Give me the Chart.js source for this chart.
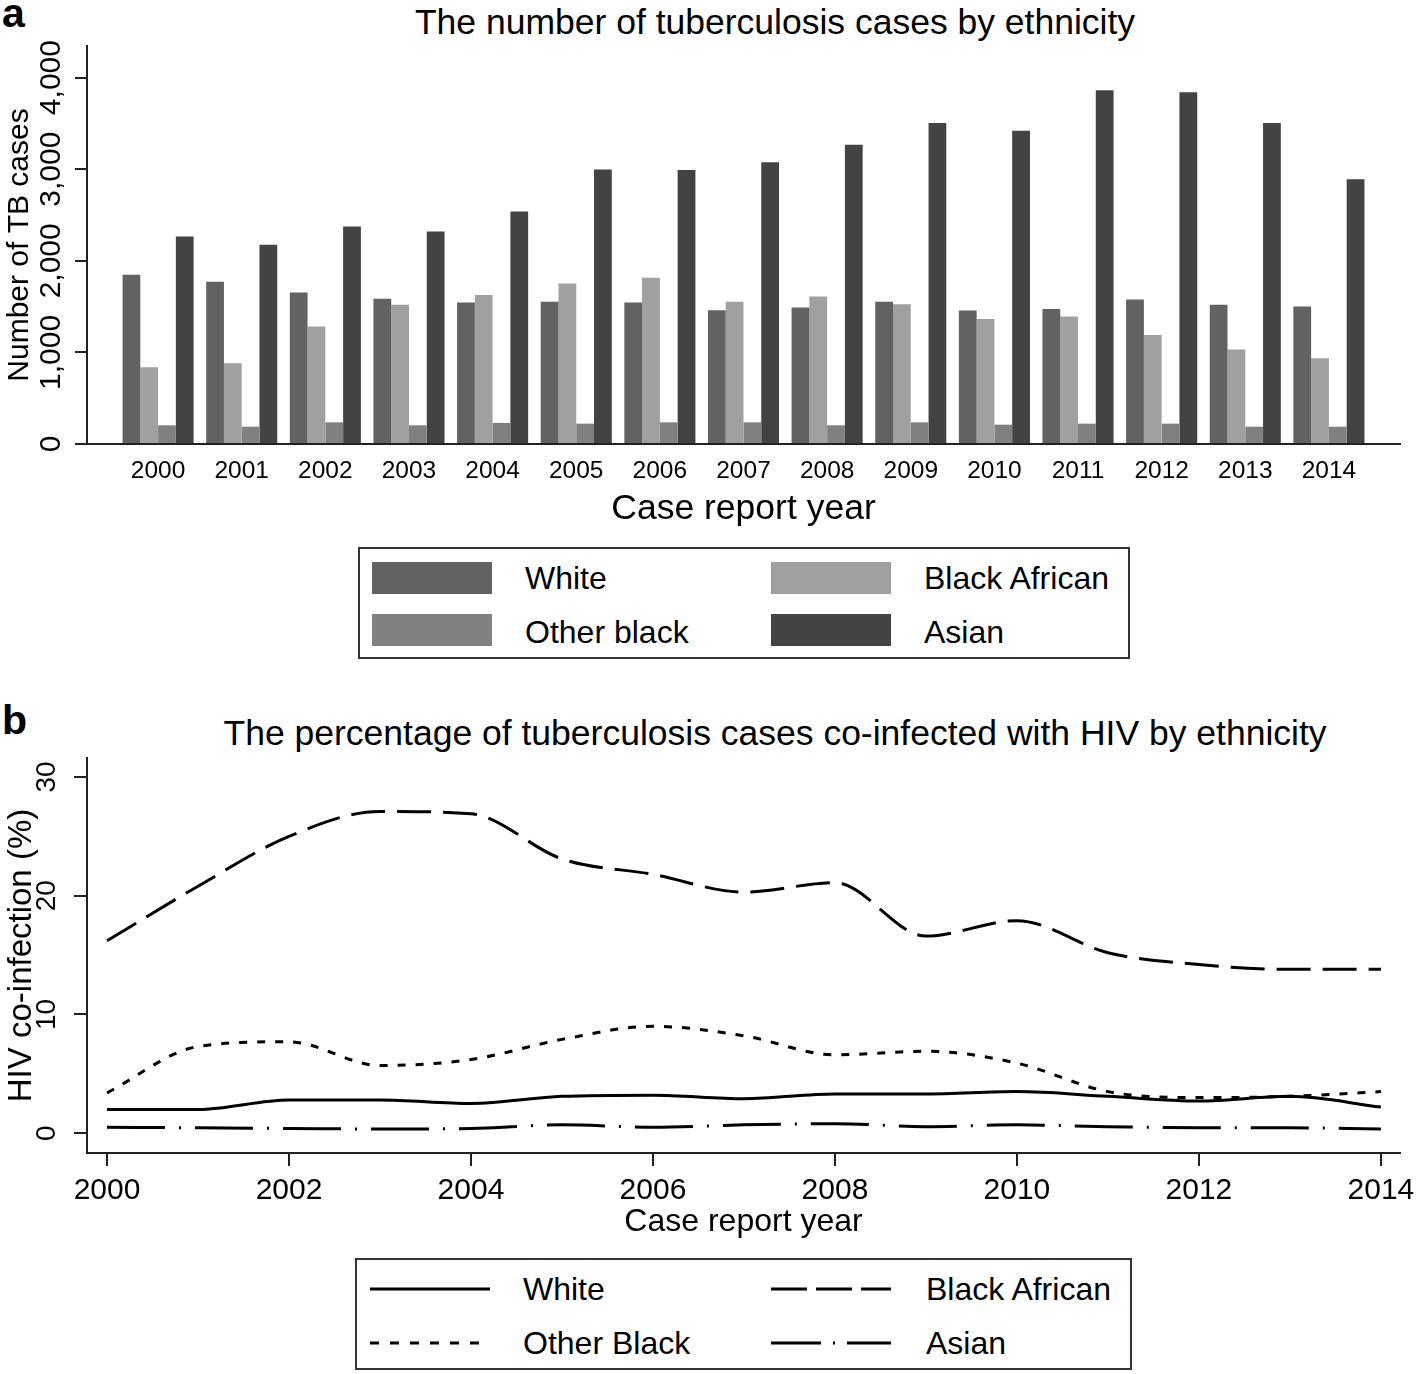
<!DOCTYPE html>
<html>
<head>
<meta charset="utf-8">
<script src="https://cdn.jsdelivr.net/npm/chart.js@4.4.1/dist/chart.umd.min.js"></script>
<style>
  body { margin: 0; background: #fff; width: 1418px; height: 1374px; position: relative; overflow: hidden;
         font-family: "Liberation Sans", Arial, sans-serif; color: #000; }
  canvas { position: absolute; left: 0; }
  #grafico1 { top: 0; }
  #grafico2 { top: 740px; }
  .painel { position: absolute; left: 2px; font-weight: bold; font-size: 41px; line-height: 41px; }
  .titulo { position: absolute; left: 0; width: 1550px; text-align: center; font-size: 35.5px; line-height: 42px; white-space: nowrap; }
  .legenda { position: absolute; border: 2px solid #333; box-sizing: border-box; }
  .amostra { position: absolute; width: 120px; height: 32px; }
  .rotulo { position: absolute; font-size: 32px; line-height: 32px; white-space: nowrap; }
  svg { position: absolute; }
</style>
</head>
<body>
<div class="painel" style="top:-7px">a</div>
<div class="titulo" style="top:1px">The number of tuberculosis cases by ethnicity</div>
<canvas id="grafico1" width="1418" height="531"></canvas>

<div class="legenda" style="left:358px; top:547px; width:772px; height:112px">
  <div class="amostra" style="left:12px; top:13px; background:#626262"></div>
  <div class="rotulo" style="left:165px; top:13px">White</div>
  <div class="amostra" style="left:411px; top:13px; background:#a0a0a0"></div>
  <div class="rotulo" style="left:564px; top:13px">Black African</div>
  <div class="amostra" style="left:12px; top:65px; background:#808080"></div>
  <div class="rotulo" style="left:165px; top:67px">Other black</div>
  <div class="amostra" style="left:411px; top:65px; background:#434343"></div>
  <div class="rotulo" style="left:564px; top:67px">Asian</div>
</div>

<div class="painel" style="top:700px">b</div>
<div class="titulo" style="top:712px">The percentage of tuberculosis cases co-infected with HIV by ethnicity</div>
<canvas id="grafico2" width="1418" height="501"></canvas>

<div class="legenda" style="left:355px; top:1258px; width:777px; height:112px">
  <svg style="left:13px; top:24px" width="120" height="10"><line x1="0" y1="5" x2="120" y2="5" stroke="#000" stroke-width="3"/></svg>
  <div class="rotulo" style="left:166px; top:13px">White</div>
  <svg style="left:414px; top:24px" width="120" height="10"><line x1="0" y1="5" x2="120" y2="5" stroke="#000" stroke-width="3" stroke-dasharray="36 9"/></svg>
  <div class="rotulo" style="left:569px; top:13px">Black African</div>
  <svg style="left:13px; top:78px" width="120" height="10"><line x1="0" y1="5" x2="120" y2="5" stroke="#000" stroke-width="3" stroke-dasharray="9 11"/></svg>
  <div class="rotulo" style="left:166px; top:67px">Other Black</div>
  <svg style="left:414px; top:78px" width="120" height="10"><line x1="0" y1="5" x2="120" y2="5" stroke="#000" stroke-width="3" stroke-dasharray="50 12 2 12"/></svg>
  <div class="rotulo" style="left:569px; top:67px">Asian</div>
</div>

<script>
const fonte = '"Liberation Sans", Arial, sans-serif';

// anos dos casos
const anos = [2000, 2001, 2002, 2003, 2004, 2005, 2006, 2007, 2008, 2009, 2010, 2011, 2012, 2013, 2014];

// painel a: numero de casos de TB
const casosWhite = [1847, 1770, 1654, 1585, 1544, 1552, 1544, 1461, 1490, 1552, 1457, 1475, 1577, 1519, 1500];
const casosBlackAfrican = [838, 882, 1282, 1519, 1628, 1752, 1814, 1552, 1610, 1527, 1366, 1391, 1191, 1031, 936];
const casosOtherBlack = [204, 189, 237, 204, 230, 222, 237, 237, 204, 237, 211, 222, 222, 189, 189];
const casosAsian = [2266, 2175, 2375, 2320, 2539, 2998, 2991, 3075, 3268, 3505, 3421, 3861, 3839, 3505, 2889];
const ticksCasos = [0, 1000, 2000, 3000, 4000];

// painel b: % co-infeccao HIV
const hivWhite = [2.0, 2.0, 2.8, 2.8, 2.5, 3.1, 3.2, 2.9, 3.3, 3.3, 3.5, 3.1, 2.7, 3.1, 2.2];
const hivBlackAfrican = [16.2, 20.8, 25.0, 27.1, 26.9, 23.1, 21.8, 20.3, 21.1, 16.6, 17.9, 15.2, 14.2, 13.8, 13.8];
const hivOtherBlack = [3.4, 7.3, 7.7, 5.7, 6.2, 7.9, 9.0, 8.2, 6.6, 6.9, 5.9, 3.5, 3.0, 3.1, 3.5];
const hivAsian = [0.5, 0.45, 0.4, 0.35, 0.4, 0.7, 0.5, 0.7, 0.8, 0.55, 0.7, 0.55, 0.45, 0.45, 0.35];
const ticksHivX = [2000, 2002, 2004, 2006, 2008, 2010, 2012, 2014];
const ticksHivY = [0, 10, 20, 30];

function pares(valores) {
  return anos.map((a, i) => ({ x: a, y: valores[i] }));
}

const corEixo = '#222';

new Chart(document.getElementById('grafico1'), {
  type: 'bar',
  data: {
    datasets: [
      { label: 'White', data: pares(casosWhite), backgroundColor: '#626262' },
      { label: 'Black African', data: pares(casosBlackAfrican), backgroundColor: '#a0a0a0' },
      { label: 'Other black', data: pares(casosOtherBlack), backgroundColor: '#808080' },
      { label: 'Asian', data: pares(casosAsian), backgroundColor: '#434343' }
    ]
  },
  options: {
    responsive: false,
    animation: false,
    devicePixelRatio: 1,
    layout: { padding: { left: 0, right: 18, top: 46, bottom: 0 } },
    datasets: { bar: { categoryPercentage: 0.85, barPercentage: 1, borderWidth: 0 } },
    plugins: { legend: { display: false }, tooltip: { enabled: false } },
    scales: {
      x: {
        type: 'linear',
        offset: false,
        min: 1999.15,
        max: 2014.85,
        grid: { display: false, drawTicks: false },
        border: { display: true, color: corEixo, width: 2 },
        ticks: { padding: 13, color: '#000', font: { family: fonte, size: 24.5 }, maxRotation: 0, autoSkip: false,
                 callback: v => String(v) },
        afterBuildTicks: s => { s.ticks = anos.map(v => ({ value: v })); },
        afterFit: s => { s.height = 87; s.paddingLeft = 0; s.paddingRight = 0; },
        title: { display: true, text: 'Case report year', color: '#000', font: { family: fonte, size: 35.5 }, padding: 0 }
      },
      y: {
        min: 0,
        max: 4345,
        grid: { drawOnChartArea: false, drawTicks: true, tickLength: 12, color: corEixo, lineWidth: 2 },
        border: { display: true, color: corEixo, width: 2 },
        ticks: { minRotation: 90, maxRotation: 90, crossAlign: 'center', padding: -14, color: '#000',
                 font: { family: fonte, size: 30 }, callback: v => v.toLocaleString('en-US') },
        afterBuildTicks: s => { s.ticks = ticksCasos.map(v => ({ value: v })); },
        afterFit: s => { s.width = 87; s.paddingTop = 0; s.paddingBottom = 0; },
        title: { display: true, text: 'Number of TB cases', color: '#000', font: { family: fonte, size: 30 }, padding: 2 }
      }
    }
  }
});

function serie(label, valores, tracejado) {
  return {
    label: label,
    data: pares(valores),
    borderColor: '#000',
    borderWidth: 3,
    borderDash: tracejado,
    pointRadius: 0,
    cubicInterpolationMode: 'monotone',
    fill: false
  };
}

new Chart(document.getElementById('grafico2'), {
  type: 'line',
  data: {
    datasets: [
      serie('White', hivWhite, []),
      serie('Black African', hivBlackAfrican, [34, 12]),
      serie('Other Black', hivOtherBlack, [8, 10]),
      serie('Asian', hivAsian, [58, 14, 2, 14])
    ]
  },
  options: {
    responsive: false,
    animation: false,
    devicePixelRatio: 1,
    layout: { padding: { left: 0, right: 18, top: 18, bottom: 0 } },
    plugins: { legend: { display: false }, tooltip: { enabled: false } },
    scales: {
      x: {
        type: 'linear',
        min: 1999.78,
        max: 2014.21,
        grid: { drawOnChartArea: false, tickLength: 13, color: corEixo, lineWidth: 2 },
        border: { display: true, color: corEixo, width: 2 },
        ticks: { padding: 7, color: '#000', font: { family: fonte, size: 30 }, maxRotation: 0, autoSkip: false,
                 callback: v => String(v) },
        afterBuildTicks: s => { s.ticks = ticksHivX.map(v => ({ value: v })); },
        afterFit: s => { s.height = 88; s.paddingLeft = 0; s.paddingRight = 0; },
        title: { display: true, text: 'Case report year', color: '#000', font: { family: fonte, size: 32 }, padding: 0 }
      },
      y: {
        min: -1.67,
        max: 31.6,
        grid: { drawOnChartArea: false, tickLength: 13, color: corEixo, lineWidth: 2 },
        border: { display: true, color: corEixo, width: 2 },
        ticks: { minRotation: 90, maxRotation: 90, crossAlign: 'center', padding: 11, color: '#000',
                 font: { family: fonte, size: 28 } },
        afterBuildTicks: s => { s.ticks = ticksHivY.map(v => ({ value: v })); },
        afterFit: s => { s.width = 87; s.paddingTop = 0; s.paddingBottom = 0; },
        title: { display: true, text: 'HIV co-infection (%)', color: '#000', font: { family: fonte, size: 33 }, padding: 2 }
      }
    }
  }
});
</script>
</body>
</html>
